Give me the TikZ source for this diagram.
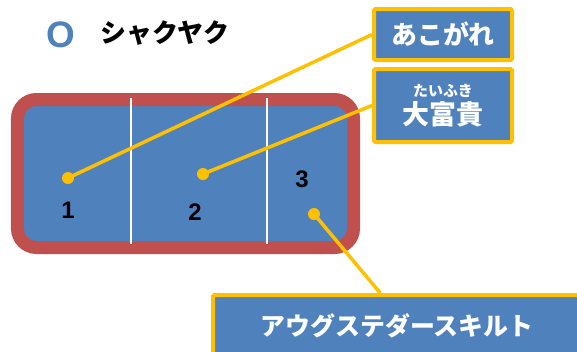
\documentclass[tikz,border=0pt]{standalone}
\usepackage{fontspec}
\setmainfont{Noto Sans CJK JP}
\newfontfamily\latn{Liberation Sans}
\usetikzlibrary{calc}
\definecolor{cblue}{HTML}{4F81BD}
\definecolor{cred}{HTML}{C0504D}
\definecolor{cyel}{HTML}{FFC000}
\newcommand{\fsz}[1]{\fontsize{#1}{#1}\selectfont}
\tikzset{
  lbox/.style={draw=cyel, line width=4bp, fill=cblue, rounded corners=1.5bp, inner sep=0pt, text=white, font=\bfseries, align=center},
  dotn/.style={circle, fill=cyel, minimum size=12bp, inner sep=0pt},
  conn/.style={draw=cyel, line width=3.5bp},
  num/.style={font=\latn\fsz{24}\bfseries, text=black, inner sep=0pt},
}
\begin{document}
\begin{tikzpicture}[x=1bp, y=-1bp]
\useasboundingbox (0,0) rectangle (577,351);
\clip (0,0) rectangle (577,351);
\node[font=\latn\fsz{37}\bfseries, text=cblue, inner sep=0pt] (o) at (61,35) {O};
\node[font=\fsz{26}\bfseries, inner sep=0pt] (title) at (165,33) {シャクヤク};
\node[draw=cred, fill=cblue, line width=13bp, rounded corners=19bp, minimum width=336bp, minimum height=148bp, inner sep=0pt] (main) at (185.5,173.5) {};
\draw[white, line width=2bp] (131,98) -- (131,244);
\draw[white, line width=2bp] (267,98) -- (267,244);
\node[num] (n1) at (68,210) {1};
\node[num] (n2) at (195,212) {2};
\node[num] (n3) at (302,179) {3};
\node[lbox, minimum width=138bp, minimum height=51bp] (b1) at (443,34.5) {\fsz{26}あこがれ};
\node[lbox, minimum width=138bp, minimum height=73bp] (b2) at (443,105.5) {\fsz{15}たいふき\\[3bp]\fsz{27}大富貴};
\node[lbox, minimum width=368bp, minimum height=62bp] (bk) at (397,326) {\fsz{25}アウグステダースキルト};
\node[dotn] (d1) at (68,178) {};
\node[dotn] (d2) at (203,174) {};
\node[dotn] (d3) at (314,214) {};
\draw[conn] (d1.center) -- (b1.west);
\draw[conn] (d2.center) -- (b2.west);
\draw[conn] (d3.center) -- ($(bk.north west)!0.455!(bk.north east)$);
\end{tikzpicture}
\end{document}
